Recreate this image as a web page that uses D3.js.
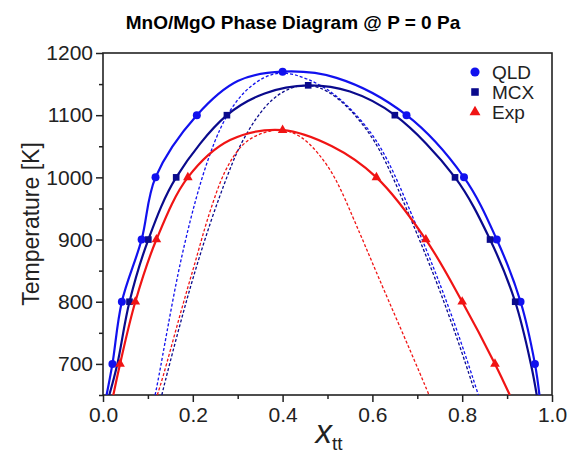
<!DOCTYPE html>
<html>
<head>
<meta charset="utf-8">
<script src="https://cdn.jsdelivr.net/npm/d3@7"></script>
<style>
  body { margin: 0; background: #fff; }
  svg { font-family: "Liberation Sans", Arial, sans-serif; }
</style>
</head>
<body>
<div id="chart"></div>
<script>
// series names and colours
var seriesNames = ['QLD', 'MCX', 'Exp'];
var seriesColors = ['#1111ee', '#0a0a8c', '#f01414'];

// markers [x_tt, T]
var qldPoints = [[0.021, 700], [0.042, 800], [0.086, 900], [0.117, 1000], [0.209, 1100], [0.400, 1170],
                 [0.676, 1100], [0.804, 1000], [0.877, 900], [0.930, 800], [0.962, 700]];
var mcxPoints = [[0.059, 800], [0.101, 900], [0.163, 1000], [0.276, 1100], [0.457, 1148],
                 [0.650, 1100], [0.784, 1000], [0.862, 900], [0.918, 800]];
var expPoints = [[0.038, 700], [0.072, 800], [0.119, 900], [0.189, 1000], [0.400, 1076],
                 [0.609, 1000], [0.719, 900], [0.800, 800], [0.873, 700]];

// binodal (solid) curves
var qldLine = [[0.008, 650], [0.021, 700], [0.042, 800], [0.086, 900], [0.117, 1000], [0.209, 1100], [0.300, 1155],
               [0.400, 1170], [0.520, 1160], [0.676, 1100], [0.804, 1000], [0.877, 900], [0.930, 800], [0.962, 700], [0.972, 650]];
var mcxLine = [[0.014, 650], [0.032, 700], [0.059, 800], [0.101, 900], [0.163, 1000], [0.276, 1100], [0.360, 1135],
               [0.457, 1148], [0.550, 1138], [0.650, 1100], [0.784, 1000], [0.862, 900], [0.918, 800], [0.953, 700], [0.966, 650]];
var expLine = [[0.023, 650], [0.038, 700], [0.072, 800], [0.119, 900], [0.189, 1000], [0.283, 1060], [0.400, 1076],
               [0.510, 1050], [0.609, 1000], [0.719, 900], [0.800, 800], [0.873, 700], [0.906, 650]];

// spinodal (dashed) curves
var qldDash = [[0.116, 650], [0.123, 674], [0.142, 750], [0.168, 851], [0.194, 931], [0.220, 1000], [0.249, 1060],
               [0.275, 1100], [0.312, 1138], [0.357, 1162], [0.400, 1171], [0.453, 1160], [0.513, 1138], [0.580, 1090],
               [0.632, 1036], [0.693, 931], [0.748, 835], [0.798, 735], [0.836, 650]];
var mcxDash = [[0.131, 650], [0.139, 674], [0.170, 760], [0.200, 838], [0.240, 931], [0.280, 1009], [0.309, 1060],
               [0.365, 1122], [0.416, 1145], [0.457, 1150], [0.500, 1141], [0.548, 1112], [0.585, 1080], [0.625, 1036],
               [0.687, 931], [0.742, 835], [0.792, 735], [0.826, 660]];
var expDash = [[0.121, 650], [0.134, 680], [0.150, 722], [0.170, 775], [0.190, 826], [0.208, 870], [0.227, 920],
               [0.245, 960], [0.262, 995], [0.280, 1022], [0.300, 1044], [0.320, 1059], [0.345, 1069], [0.372, 1075],
               [0.400, 1078], [0.440, 1068], [0.480, 1040], [0.520, 998], [0.557, 935], [0.587, 885], [0.613, 840],
               [0.660, 762], [0.710, 678], [0.726, 650]];

// axis ticks
var xTicks = [0, 0.2, 0.4, 0.6, 0.8, 1.0];
var xMinor = [0.1, 0.3, 0.5, 0.7, 0.9];
var yTicks = [700, 800, 900, 1000, 1100, 1200];
var yMinor = [650, 750, 850, 950, 1050, 1150];

var width = 578, height = 456;
var plotLeft = 103, plotRight = 552, plotTop = 53, plotBottom = 395;

var svg = d3.select('#chart').append('svg').attr('width', width).attr('height', height);

var x = d3.scaleLinear().domain([0, 1]).range([plotLeft, plotRight]);
var y = d3.scaleLinear().domain([650, 1200]).range([plotBottom, plotTop]);

svg.append('clipPath').attr('id', 'plotclip')
   .append('rect').attr('x', plotLeft).attr('y', plotTop)
   .attr('width', plotRight - plotLeft).attr('height', plotBottom - plotTop);

// title
svg.append('text')
   .attr('x', 293).attr('y', 29)
   .attr('text-anchor', 'middle')
   .style('font-size', '19px').style('font-weight', 'bold')
   .text('MnO/MgO Phase Diagram @ P = 0 Pa');

// axes
svg.append('g').attr('transform', 'translate(0,' + plotBottom + ')')
   .call(d3.axisBottom(x).tickValues(xTicks).tickSize(7).tickPadding(5).tickFormat(d3.format('.1f')));
svg.append('g').attr('transform', 'translate(0,' + plotBottom + ')')
   .call(d3.axisBottom(x).tickValues(xMinor).tickSize(4).tickFormat(''));
svg.append('g').attr('transform', 'translate(' + plotLeft + ',0)')
   .call(d3.axisLeft(y).tickValues(yTicks).tickSize(7).tickPadding(3).tickFormat(d3.format('d')));
svg.append('g').attr('transform', 'translate(' + plotLeft + ',0)')
   .call(d3.axisLeft(y).tickValues(yMinor).tickSize(4).tickFormat(''));

svg.selectAll('.domain').remove();
svg.selectAll('.tick line').attr('stroke', '#222').attr('stroke-width', 1.5);
svg.selectAll('.tick text').style('font-size', '21px').attr('fill', '#222');

svg.append('rect')
   .attr('x', plotLeft).attr('y', plotTop)
   .attr('width', plotRight - plotLeft).attr('height', plotBottom - plotTop)
   .attr('fill', 'none').attr('stroke', '#222').attr('stroke-width', 1.6);

// axis titles
svg.append('text')
   .attr('transform', 'translate(39,' + (plotTop + plotBottom) / 2 + ') rotate(-90)')
   .attr('text-anchor', 'middle')
   .style('font-size', '23px').attr('fill', '#222')
   .text('Temperature [K]');

var xt = svg.append('text')
   .attr('x', 329).attr('y', 443)
   .attr('text-anchor', 'middle').attr('fill', '#222');
xt.append('tspan').style('font-size', '33px').style('font-style', 'italic').text('x');
xt.append('tspan').attr('dy', 7).style('font-size', '19px').text('tt');

// curves
var line = d3.line()
   .x(function (d) { return x(d[0]); })
   .y(function (d) { return y(d[1]); })
   .curve(d3.curveCatmullRom.alpha(0.5));
var smoothLine = d3.line()
   .x(function (d) { return x(d[0]); })
   .y(function (d) { return y(d[1]); })
   .curve(d3.curveBasis);

var plot = svg.append('g').attr('clip-path', 'url(#plotclip)');

var dashes = [qldDash, mcxDash, expDash];
var lines = [qldLine, mcxLine, expLine];
var points = [qldPoints, mcxPoints, expPoints];

dashes.forEach(function (d, i) {
   plot.append('path').datum(d)
      .attr('d', smoothLine)
      .attr('fill', 'none')
      .attr('stroke', seriesColors[i])
      .attr('stroke-width', 1.3)
      .attr('stroke-dasharray', '3,2');
});

lines.forEach(function (d, i) {
   plot.append('path').datum(d)
      .attr('d', line)
      .attr('fill', 'none')
      .attr('stroke', seriesColors[i])
      .attr('stroke-width', 2.2);
});

var symbols = [d3.symbolCircle, d3.symbolSquare, d3.symbolTriangle];
var symbolSizes = [50, 44, 40];

points.forEach(function (d, i) {
   plot.selectAll('.pt' + i)
      .data(d)
      .enter()
      .append('path')
      .attr('class', 'pt' + i)
      .attr('transform', function (p) { return 'translate(' + x(p[0]) + ',' + y(p[1]) + ')'; })
      .attr('d', d3.symbol().type(symbols[i]).size(symbolSizes[i]))
      .attr('fill', seriesColors[i]);
});

// legend
var legend = svg.append('g');
seriesNames.forEach(function (name, i) {
   var ly = 72 + i * 20;
   legend.append('path')
      .attr('transform', 'translate(475,' + ly + ')')
      .attr('d', d3.symbol().type(symbols[i]).size(symbolSizes[i] * 1.3))
      .attr('fill', seriesColors[i]);
   legend.append('text')
      .attr('x', 492).attr('y', ly + 7)
      .style('font-size', '19px').attr('fill', '#222')
      .text(name);
});
</script>
</body>
</html>
